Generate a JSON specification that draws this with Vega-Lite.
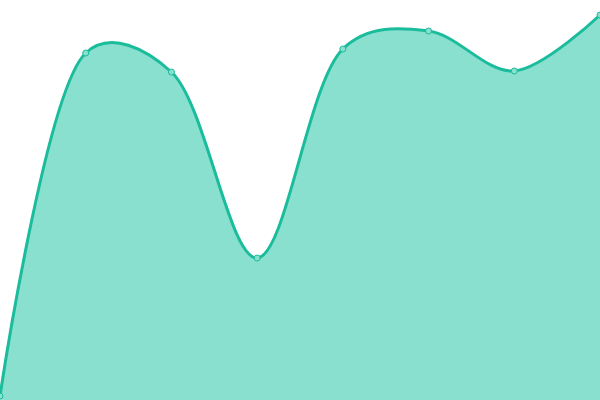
{
  "$schema": "https://vega.github.io/schema/vega-lite/v6.json",
  "width": 600,
  "height": 400,
  "autosize": {"type": "fit", "contains": "padding"},
  "padding": 0,
  "config": {"view": {"stroke": null}},
  "data": {
    "values": [
      {"i": 0, "v": 4},
      {"i": 1, "v": 347},
      {"i": 2, "v": 328},
      {"i": 3, "v": 142},
      {"i": 4, "v": 351},
      {"i": 5, "v": 369},
      {"i": 6, "v": 329},
      {"i": 7, "v": 385}
    ]
  },
  "encoding": {
    "x": {"field": "i", "type": "quantitative", "scale": {"domain": [0, 7], "nice": false}, "axis": null},
    "y": {"field": "v", "type": "quantitative", "scale": {"domain": [0, 400], "nice": false}, "axis": null}
  },
  "layer": [
    {
      "mark": {"type": "area", "interpolate": "catmull-rom", "tension": 0.35, "color": "#89e0cf", "opacity": 1, "clip": true}
    },
    {
      "mark": {"type": "line", "interpolate": "catmull-rom", "tension": 0.35, "color": "#1abc9c", "strokeWidth": 3, "clip": true}
    },
    {
      "mark": {"type": "point", "filled": true, "size": 36, "fill": "#89e0cf", "stroke": "#1abc9c", "strokeWidth": 1, "opacity": 1, "clip": true}
    }
  ]
}
